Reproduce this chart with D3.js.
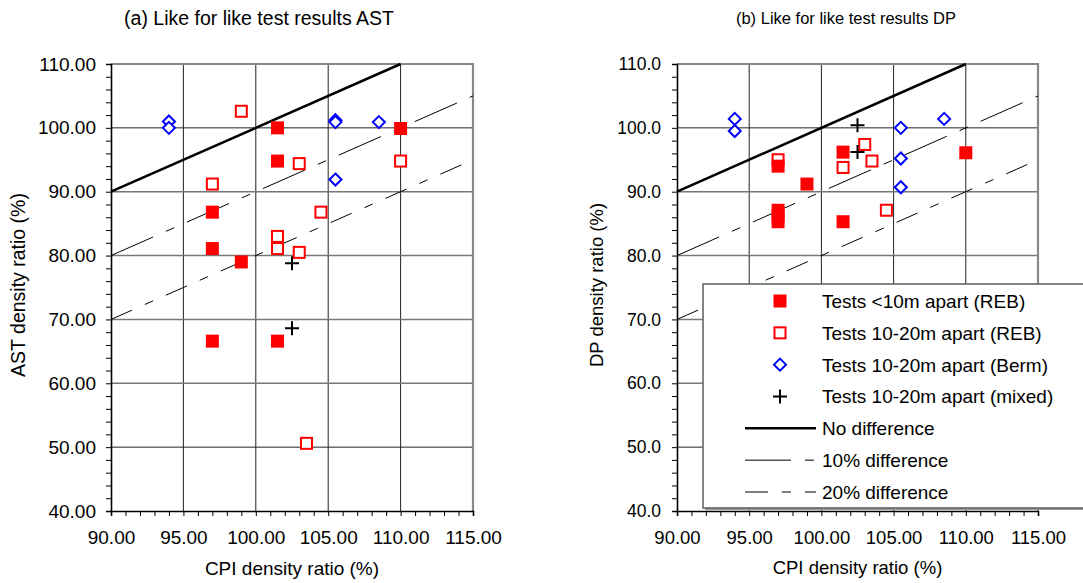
<!DOCTYPE html>
<html><head><meta charset="utf-8">
<script src="https://cdn.jsdelivr.net/npm/d3@7"></script>
<style>
html,body{margin:0;padding:0;background:#fff;}
svg{display:block;font-family:"Liberation Sans",Arial,sans-serif;}
</style></head>
<body>
<svg id="chart" width="1083" height="583"></svg>
<script>
// ---------- data ----------
const xTicks = [90, 95, 100, 105, 110, 115];
const yTicks = [40, 50, 60, 70, 80, 90, 100, 110];
const panelTitles = ["(a) Like for like test results AST", "(b) Like for like test results DP"];
const yTitles = ["AST density ratio (%)", "DP density ratio (%)"];
const xTitle = "CPI density ratio (%)";
const seriesNames = ["Tests <10m apart (REB)", "Tests 10-20m apart (REB)", "Tests 10-20m apart (Berm)", "Tests 10-20m apart (mixed)"];
const lineNames = ["No difference", "10% difference", "20% difference"];
// reference lines: [x0, y0, x1, y1]
const noDiff = [90, 90, 110, 110];
const diff10 = [90, 80, 115, 105];
const diff20 = [90, 70, 115, 95];

// AST panel [CPI, AST]
const astReb10 = [[101.5,100.0],[101.5,94.8],[110.0,99.9],[97.0,86.8],[97.0,81.1],[99.0,79.0],[97.0,66.6],[101.5,66.6]];
const astReb20 = [[99.0,102.6],[103.0,94.4],[110.0,94.8],[97.0,91.2],[104.5,86.8],[101.5,83.0],[101.5,81.1],[103.0,80.5],[103.5,50.6]];
const astBerm  = [[94.0,101.0],[94.0,100.0],[105.5,101.2],[105.5,100.9],[108.5,100.9],[105.5,91.9]];
const astMixed = [[102.5,78.8],[102.5,68.6]];
// DP panel [CPI, DP]
const dpReb10 = [[97.0,94.0],[97.0,87.1],[97.0,86.2],[97.0,85.3],[99.0,91.2],[101.5,96.2],[101.5,85.3],[110.0,96.1]];
const dpReb20 = [[97.0,95.0],[101.5,93.8],[103.0,97.4],[103.5,94.8],[104.5,87.1]];
const dpBerm  = [[94.0,101.4],[94.0,99.5],[105.5,100.0],[105.5,95.2],[105.5,90.7],[108.5,101.4]];
const dpMixed = [[102.5,100.4],[102.5,96.2]];

// ---------- drawing ----------
const svg = d3.select("#chart");

const panels = [
  {x0: 111, x1: 473, yFmt: d3.format(".2f"), title: panelTitles[0], yTitle: yTitles[0], titleX: 259, titleFS: 19.5,
   yTitleX: 25, yTitleFS: 19.5, yTickFS: 19, xTickFS: 19, yTickDx: -15, xTitleFS: 19,
   reb10: astReb10, reb20: astReb20, berm: astBerm, mixed: astMixed},
  {x0: 677, x1: 1038, yFmt: d3.format(".1f"), title: panelTitles[1], yTitle: yTitles[1], titleX: 846, titleFS: 16.5,
   yTitleX: 603, yTitleFS: 18.5, yTickFS: 17.5, xTickFS: 18.5, yTickDx: -16, xTitleFS: 18.5,
   reb10: dpReb10, reb20: dpReb20, berm: dpBerm, mixed: dpMixed}
];
const yTop = 64, yBot = 511;

function marker(g, type, cx, cy) {
  if (type === 0) {
    g.append("rect").attr("x", cx - 6.5).attr("y", cy - 6.5).attr("width", 13).attr("height", 13).attr("fill", "#ff0000");
  } else if (type === 1) {
    g.append("rect").attr("x", cx - 5.5).attr("y", cy - 5.5).attr("width", 11).attr("height", 11)
      .attr("fill", "#fff").attr("stroke", "#ff0000").attr("stroke-width", 2);
  } else if (type === 2) {
    g.append("path").attr("d", `M${cx},${cy-6}L${cx+6},${cy}L${cx},${cy+6}L${cx-6},${cy}Z`)
      .attr("fill", "#fff").attr("stroke", "#0000ff").attr("stroke-width", 2);
  } else {
    g.append("path").attr("d", `M${cx-7},${cy}H${cx+7}M${cx},${cy-7}V${cy+7}`)
      .attr("stroke", "#000").attr("stroke-width", 2).attr("fill", "none");
  }
}

const lineStyles = [
  {w: 2.5, dash: null},
  {w: 1, dash: "46,14,9,14"},
  {w: 1, dash: "23,14,9,14"}
];

panels.forEach(p => {
  const x = d3.scaleLinear().domain([90, 115]).range([p.x0, p.x1]);
  const y = d3.scaleLinear().domain([40, 110]).range([yBot, yTop]);
  const g = svg.append("g");

  // grid lines
  g.selectAll(".vg").data(xTicks.slice(1, -1)).join("line")
    .attr("x1", d => x(d)).attr("x2", d => x(d)).attr("y1", yTop).attr("y2", yBot)
    .attr("stroke", "#222").attr("stroke-width", 1);
  g.selectAll(".hg").data(yTicks.slice(1, -1)).join("line")
    .attr("x1", p.x0).attr("x2", p.x1).attr("y1", d => y(d)).attr("y2", d => y(d))
    .attr("stroke", d => (d === 100 || d === 50) ? "#222" : "#777").attr("stroke-width", d => (d === 100 || d === 50) ? 1 : 1.6);

  // top & right border
  g.append("path").attr("d", `M${p.x0},${yTop}H${p.x1}V${yBot}`)
    .attr("fill", "none").attr("stroke", "#888").attr("stroke-width", 2.2);

  // reference lines
  [noDiff, diff10, diff20].forEach((L, i) => {
    g.append("line").attr("x1", x(L[0])).attr("y1", y(L[1])).attr("x2", x(L[2])).attr("y2", y(L[3]))
      .attr("stroke", "#000").attr("stroke-width", lineStyles[i].w)
      .attr("stroke-dasharray", lineStyles[i].dash);
  });

  // axes
  const yMinor = d3.range(40, 110.001, 2);
  const xMinor = d3.range(90, 115.001, 1);
  const yAxis = g.append("g").attr("transform", `translate(${p.x0},0)`)
    .call(d3.axisLeft(y).tickValues(yMinor).tickSize(5).tickFormat(d => Math.round(d) % 10 === 0 ? p.yFmt(d) : ""));
  const xAxis = g.append("g").attr("transform", `translate(0,${yBot})`)
    .call(d3.axisBottom(x).tickValues(xMinor).tickSize(5).tickFormat(d => Math.round(d) % 5 === 0 ? d3.format(".2f")(d) : ""));
  [yAxis, xAxis].forEach(a => {
    a.selectAll("text").attr("font-family", "Liberation Sans, Arial, sans-serif").attr("fill", "#000");
    a.selectAll("line").attr("stroke", "#000");
    a.select(".domain").attr("stroke", "#000").attr("stroke-width", 1.6);
  });
  yAxis.selectAll("text").attr("x", p.yTickDx).attr("font-size", p.yTickFS);
  xAxis.selectAll("text").attr("y", 20).attr("font-size", p.xTickFS);

  // points (open first, then filled, berm, mixed)
  const mg = g.append("g");
  p.reb20.forEach(d => marker(mg, 1, x(d[0]), y(d[1])));
  p.reb10.forEach(d => marker(mg, 0, x(d[0]), y(d[1])));
  p.berm.forEach(d => marker(mg, 2, x(d[0]), y(d[1])));
  p.mixed.forEach(d => marker(mg, 3, x(d[0]), y(d[1])));

  // titles
  svg.append("text").attr("x", p.titleX).attr("y", 18).attr("dy", "0.35em").attr("text-anchor", "middle")
    .attr("font-size", p.titleFS).text(p.title);
  svg.append("text").attr("x", (p.x0 + p.x1) / 2).attr("y", 568).attr("dy", "0.35em").attr("text-anchor", "middle")
    .attr("font-size", p.xTitleFS).text(xTitle);
  svg.append("text").attr("transform", `translate(${p.yTitleX},285) rotate(-90)`).attr("text-anchor", "middle")
    .attr("font-size", p.yTitleFS).text(p.yTitle);
});

// ---------- legend ----------
const lg = svg.append("g");
const lx = 703, ly = 284, lw = 400, lh = 224;
lg.append("rect").attr("x", lx + 2).attr("y", ly + 2).attr("width", lw).attr("height", lh).attr("fill", "#999");
lg.append("rect").attr("x", lx).attr("y", ly).attr("width", lw).attr("height", lh)
  .attr("fill", "#fff").attr("stroke", "#666").attr("stroke-width", 1.6);
const rowY = d3.scalePoint().domain(d3.range(7)).range([301, 492]);
seriesNames.forEach((name, i) => {
  marker(lg, i, 780, rowY(i));
  lg.append("text").attr("x", 822).attr("y", rowY(i)).attr("dy", "0.36em").attr("font-size", 19).text(name);
});
lineNames.forEach((name, j) => {
  const i = j + 4;
  lg.append("line").attr("x1", 745).attr("x2", 816).attr("y1", rowY(i)).attr("y2", rowY(i))
    .attr("stroke", "#000").attr("stroke-width", lineStyles[j].w).attr("stroke-dasharray", lineStyles[j].dash);
  lg.append("text").attr("x", 822).attr("y", rowY(i)).attr("dy", "0.36em").attr("font-size", 19).text(name);
});
</script>
</body></html>
